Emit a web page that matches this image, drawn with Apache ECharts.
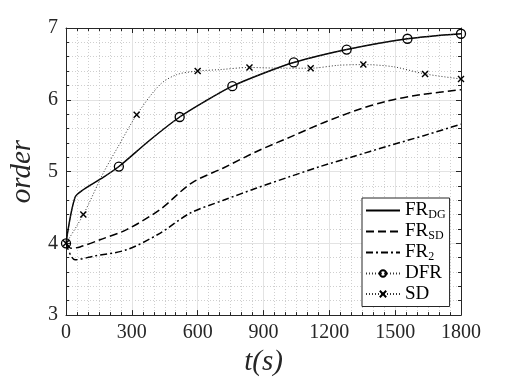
<!DOCTYPE html>
<html>
<head>
<meta charset="utf-8">
<script src="https://cdn.jsdelivr.net/npm/echarts@6/dist/echarts.min.js"></script>
<style>
  html, body { margin: 0; padding: 0; background: #fff; }
  #chart { width: 509px; height: 382px; }
</style>
</head>
<body>
<div id="chart"></div>
<script>
// time (s) and order
const tDG = [0, 41, 80, 160, 241, 383, 518, 640, 758, 900, 1038, 1279, 1556, 1800];
const vDG = [4.0, 4.64, 4.75, 4.90, 5.07, 5.44, 5.76, 5.99, 6.19, 6.37, 6.52, 6.70, 6.85, 6.92];

const tSDfr = [0, 25, 64, 155, 276, 428, 572, 717, 869, 1021, 1173, 1320, 1461, 1613, 1800];
const vSDfr = [4.0, 3.93, 3.95, 4.05, 4.19, 4.47, 4.84, 5.05, 5.28, 5.48, 5.68, 5.85, 5.98, 6.07, 6.14];

const tFR2 = [0, 41, 124, 276, 428, 565, 717, 869, 1021, 1158, 1310, 1461, 1630, 1800];
const vFR2 = [4.0, 3.77, 3.82, 3.91, 4.14, 4.42, 4.60, 4.77, 4.93, 5.07, 5.21, 5.35, 5.50, 5.66];

const tDFR = [0, 41, 80, 160, 241, 383, 518, 640, 758, 900, 1038, 1279, 1556, 1800];
const vDFR = [4.0, 4.64, 4.75, 4.90, 5.07, 5.44, 5.76, 5.99, 6.19, 6.37, 6.52, 6.70, 6.85, 6.92];
const dfrMarks = [0, 241, 518, 758, 1038, 1279, 1556, 1800];

const tSD = [0, 79, 170, 238, 322, 428, 504, 600, 700, 836, 980, 1115, 1240, 1355, 1492, 1636, 1800];
const vSD = [4.0, 4.40, 4.98, 5.35, 5.79, 6.21, 6.35, 6.40, 6.42, 6.45, 6.44, 6.44, 6.48, 6.49, 6.46, 6.36, 6.29];
const sdMarks = [0, 79, 322, 600, 836, 1115, 1355, 1636, 1800];

const xTicks = [0, 300, 600, 900, 1200, 1500, 1800];
const yTicks = [3, 4, 5, 6, 7];

const names = ['FR_DG', 'FR_SD', 'FR_2', 'DFR', 'SD'];
const labels = {
  FR_DG: '{n|FR}{s|DG}',
  FR_SD: '{n|FR}{s|SD}',
  FR_2: '{n|FR}{s|2}',
  DFR: '{n|DFR}',
  SD: '{n|SD}'
};

function pairs (t, v, marks) {
  return t.map(function (x, i) {
    if (marks && marks.indexOf(x) < 0) return { value: [x, v[i]], symbol: 'none' };
    return [x, v[i]];
  });
}

const font = "'Liberation Serif', 'Times New Roman', serif";
const axisColor = '#262626';
const clear = 'rgba(0,0,0,0)';

function axisBase (isX, show) {
  const ticks = isX ? xTicks : yTicks;
  return {
    type: 'value',
    min: ticks[0],
    max: ticks[ticks.length - 1],
    interval: ticks[1] - ticks[0],
    axisLine: { show: true, onZero: false, lineStyle: { color: axisColor, width: 1 } },
    axisTick: { show: true, inside: true, length: 5, lineStyle: { color: axisColor } },
    minorTick: { show: true, splitNumber: isX ? 6 : 5, length: 3, lineStyle: { color: axisColor } },
    axisLabel: {
      show: show,
      color: axisColor,
      fontFamily: font,
      fontSize: 20,
      margin: 8,
      formatter: function (v) { return String(v); }
    },
    splitLine: { show: show, lineStyle: { color: '#e3e3e3', width: 1 } },
    minorSplitLine: { show: show, lineStyle: { color: '#cfcfcf', width: 1, type: [1, 2] } }
  };
}

const xMain = Object.assign(axisBase(true, true), {
  position: 'bottom',
  name: 't(s)',
  nameLocation: 'middle',
  nameGap: 46,
  nameTextStyle: { fontFamily: font, fontStyle: 'italic', fontSize: 29, color: axisColor, verticalAlign: 'middle' }
});
const xTop = Object.assign(axisBase(true, false), { position: 'top' });
const yMain = Object.assign(axisBase(false, true), {
  position: 'left',
  name: 'order',
  nameLocation: 'middle',
  nameGap: 39,
  nameTextStyle: { fontFamily: font, fontStyle: 'italic', fontSize: 29, color: axisColor, verticalAlign: 'middle' }
});
const yRight = Object.assign(axisBase(false, false), { position: 'right' });

const chart = echarts.init(document.getElementById('chart'));
chart.setOption({
  animation: false,
  backgroundColor: '#fff',
  grid: { left: 66, right: 48, top: 28, bottom: 66, containLabel: false },
  xAxis: [xMain, xTop],
  yAxis: [yMain, yRight],
  legend: {
    data: names,
    orient: 'vertical',
    left: 362,
    top: 198,
    padding: [3, 4, 3, 3],
    itemGap: 1.5,
    itemWidth: 34,
    itemHeight: 8,
    backgroundColor: '#fff',
    borderColor: axisColor,
    borderWidth: 1,
    borderRadius: 0,
    formatter: function (name) { return labels[name]; },
    textStyle: {
      color: '#000',
      rich: {
        n: { fontFamily: font, fontSize: 19, lineHeight: 20, color: '#000' },
        s: { fontFamily: font, fontSize: 12, lineHeight: 10, verticalAlign: 'bottom', color: '#000' }
      }
    }
  },
  series: [
    {
      name: 'FR_DG', type: 'line', smooth: 0.3, symbol: 'none',
      data: pairs(tDG, vDG),
      lineStyle: { color: '#000', width: 1.5, type: 'solid' },
      itemStyle: { color: clear, borderWidth: 0 }
    },
    {
      name: 'FR_SD', type: 'line', smooth: 0.3, symbol: 'none',
      data: pairs(tSDfr, vSDfr),
      lineStyle: { color: '#000', width: 1.5, type: [8, 4] },
      itemStyle: { color: clear, borderWidth: 0 }
    },
    {
      name: 'FR_2', type: 'line', smooth: 0.3, symbol: 'none',
      data: pairs(tFR2, vFR2),
      lineStyle: { color: '#000', width: 1.5, type: [7, 3, 2, 3] },
      itemStyle: { color: clear, borderWidth: 0 }
    },
    {
      name: 'DFR', type: 'line', smooth: 0.3,
      symbol: 'circle', symbolSize: 9, showAllSymbol: true,
      data: pairs(tDFR, vDFR, dfrMarks),
      lineStyle: { color: '#333', width: 1, type: [1, 2] },
      itemStyle: { color: clear, borderColor: '#000', borderWidth: 1.3 }
    },
    {
      name: 'SD', type: 'line', smooth: 0.3,
      symbol: 'path://M0,0L10,10M10,0L0,10', symbolSize: 6, showAllSymbol: true,
      data: pairs(tSD, vSD, sdMarks),
      lineStyle: { color: '#333', width: 1, type: [1, 2] },
      itemStyle: { color: clear, borderColor: '#000', borderWidth: 1.4 }
    }
  ]
});
</script>
</body>
</html>
